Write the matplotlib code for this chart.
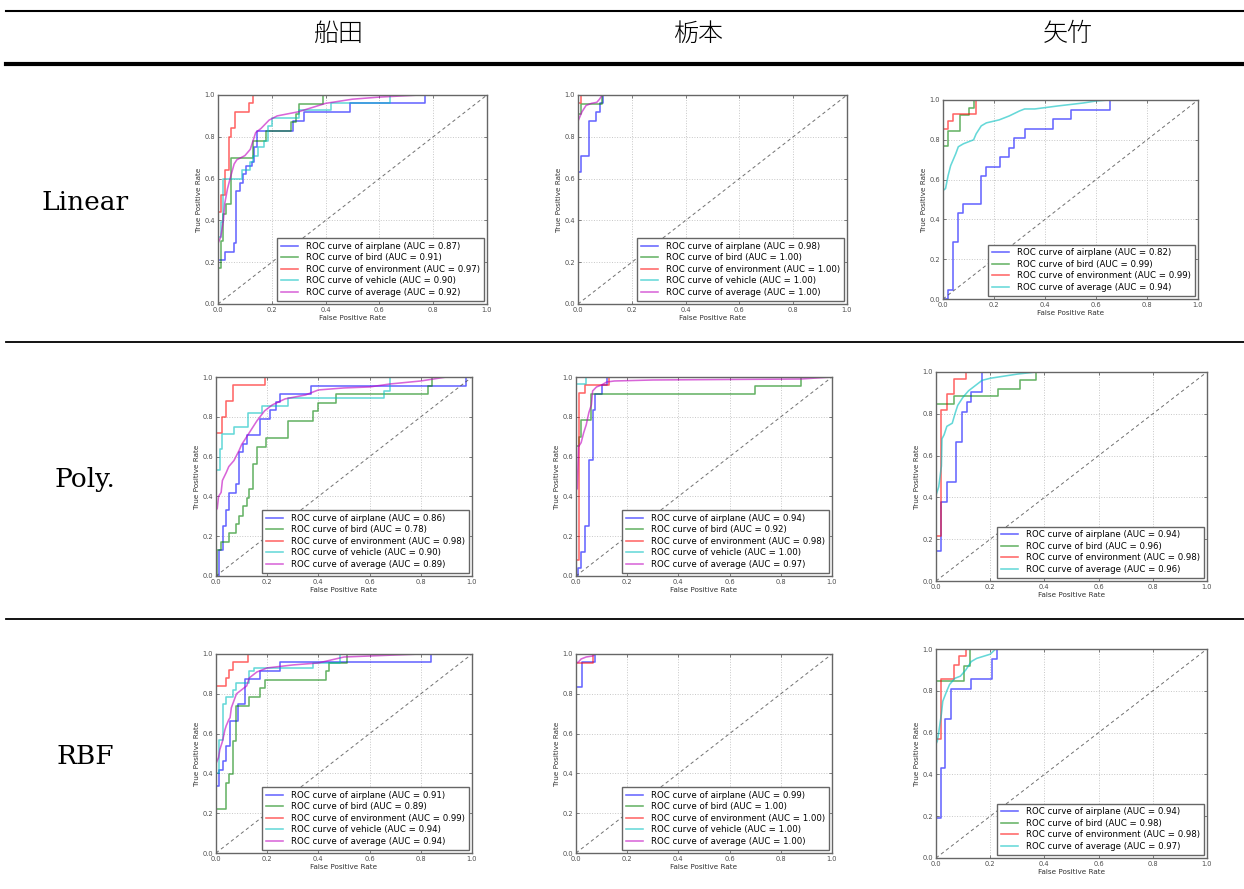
import numpy as np
import matplotlib.pyplot as plt
from matplotlib.lines import Line2D
from matplotlib.ticker import FormatStrFormatter

W, H = 1244, 889

methods = ["Linear", "Poly.", "RBF"]
annotators = ["船田", "栃本", "矢竹"]
names_full = ["airplane", "bird", "environment", "vehicle", "average"]
names_short = ["airplane", "bird", "environment", "average"]

# ROC curves, one list of (fpr, tpr) per class.
# class curves are step functions: each point is the jump position and the tpr after it
# the "average" curves are interpolated macro averages drawn as plain polylines

# Linear / 船田
lin_fun_airplane = [(0, 0.21), (0.025, 0.25), (0.058, 0.29), (0.068, 0.54), (0.08, 0.58), (0.093, 0.62),
                    (0.105, 0.66), (0.125, 0.68), (0.135, 0.75), (0.145, 0.83), (0.28, 0.875), (0.32, 0.92),
                    (0.49, 0.96), (0.77, 1.0), (1, 1)]
lin_fun_bird = [(0, 0.17), (0.01, 0.30), (0.02, 0.43), (0.03, 0.48), (0.05, 0.70), (0.13, 0.78), (0.18, 0.83),
                (0.27, 0.87), (0.29, 0.91), (0.30, 0.955), (0.39, 1.0), (1, 1)]
lin_fun_environment = [(0, 0.44), (0.01, 0.52), (0.025, 0.64), (0.04, 0.80), (0.05, 0.84), (0.065, 0.92),
                       (0.115, 0.96), (0.13, 1.0), (1, 1)]
lin_fun_vehicle = [(0, 0.32), (0.01, 0.39), (0.02, 0.60), (0.09, 0.64), (0.12, 0.68), (0.13, 0.71), (0.15, 0.75),
                   (0.17, 0.78), (0.185, 0.85), (0.2, 0.89), (0.3, 0.93), (0.42, 0.96), (0.64, 1.0), (1, 1)]
lin_fun_average = [(0, 0.29), (0.01, 0.32), (0.02, 0.40), (0.025, 0.48), (0.035, 0.55), (0.045, 0.60),
                   (0.06, 0.67), (0.07, 0.69), (0.10, 0.71), (0.12, 0.74), (0.13, 0.78), (0.14, 0.82),
                   (0.16, 0.84), (0.19, 0.88), (0.22, 0.90), (0.3, 0.92), (0.4, 0.96), (0.5, 0.98),
                   (0.6, 0.99), (0.75, 1.0), (1, 1)]
lin_fun_auc = [0.87, 0.91, 0.97, 0.90, 0.92]

# Linear / 栃本
lin_toc_airplane = [(0, 0.63), (0.012, 0.71), (0.04, 0.875), (0.067, 0.92), (0.08, 0.96), (0.093, 1.0), (1, 1)]
lin_toc_bird = [(0, 0.91), (0.01, 0.955), (0.09, 1.0), (1, 1)]
lin_toc_environment = [(0, 0.96), (0.012, 1.0), (1, 1)]
lin_toc_vehicle = [(0, 1.0), (1, 1)]
lin_toc_average = [(0, 0.875), (0.005, 0.89), (0.015, 0.92), (0.03, 0.95), (0.05, 0.96), (0.07, 0.965),
                   (0.08, 0.98), (0.09, 1.0), (1, 1)]
lin_toc_auc = [0.98, 1.00, 1.00, 1.00, 1.00]

# Linear / 矢竹
lin_yat_airplane = [(0.02, 0.045), (0.04, 0.285), (0.06, 0.43), (0.08, 0.475), (0.15, 0.62), (0.17, 0.665),
                    (0.225, 0.715), (0.26, 0.76), (0.28, 0.81), (0.32, 0.855), (0.43, 0.905), (0.5, 0.95),
                    (0.655, 1.0), (1, 1)]
lin_yat_bird = [(0, 0.77), (0.02, 0.845), (0.065, 0.925), (0.1, 0.96), (0.12, 1.0), (1, 1)]
lin_yat_environment = [(0, 0.855), (0.02, 0.895), (0.04, 0.93), (0.13, 1.0), (1, 1)]
lin_yat_average = [(0, 0.545), (0.01, 0.555), (0.02, 0.62), (0.03, 0.67), (0.05, 0.73), (0.06, 0.765),
                   (0.08, 0.78), (0.12, 0.80), (0.13, 0.83), (0.15, 0.87), (0.17, 0.885), (0.22, 0.90),
                   (0.26, 0.92), (0.3, 0.945), (0.32, 0.955), (0.36, 0.955), (0.45, 0.97), (0.55, 0.985),
                   (0.6, 0.995), (0.65, 1.0), (1, 1)]
lin_yat_auc = [0.82, 0.99, 0.99, 0.94]

# Poly / 船田
poly_fun_airplane = [(0.01, 0.13), (0.026, 0.25), (0.04, 0.33), (0.052, 0.415), (0.08, 0.46), (0.09, 0.625),
                     (0.104, 0.665), (0.12, 0.71), (0.17, 0.79), (0.21, 0.835), (0.235, 0.875), (0.25, 0.915),
                     (0.37, 0.955), (0.975, 1.0), (1, 1)]
poly_fun_bird = [(0.005, 0.13), (0.02, 0.17), (0.05, 0.215), (0.08, 0.26), (0.09, 0.30), (0.105, 0.35),
                 (0.12, 0.39), (0.13, 0.435), (0.145, 0.565), (0.16, 0.65), (0.195, 0.695), (0.28, 0.78),
                 (0.38, 0.83), (0.4, 0.87), (0.47, 0.915), (0.83, 0.955), (0.845, 1.0), (1, 1)]
poly_fun_environment = [(0, 0.72), (0.025, 0.80), (0.04, 0.88), (0.065, 0.96), (0.19, 1.0), (1, 1)]
poly_fun_vehicle = [(0, 0.535), (0.015, 0.64), (0.025, 0.715), (0.07, 0.75), (0.125, 0.82), (0.18, 0.855),
                    (0.28, 0.895), (0.655, 0.93), (0.68, 1.0), (1, 1)]
poly_fun_average = [(0, 0.33), (0.005, 0.34), (0.01, 0.40), (0.02, 0.42), (0.025, 0.48), (0.04, 0.52),
                    (0.05, 0.55), (0.07, 0.58), (0.09, 0.63), (0.1, 0.66), (0.13, 0.72), (0.16, 0.78),
                    (0.19, 0.83), (0.22, 0.86), (0.27, 0.89), (0.35, 0.91), (0.37, 0.92), (0.4, 0.935),
                    (0.5, 0.945), (0.6, 0.95), (0.68, 0.965), (0.8, 0.98), (0.9, 1.0), (1, 1)]
poly_fun_auc = [0.86, 0.78, 0.98, 0.90, 0.89]

# Poly / 栃本
poly_toc_airplane = [(0.008, 0.04), (0.02, 0.12), (0.035, 0.25), (0.05, 0.585), (0.065, 0.835), (0.075, 0.915),
                     (0.1, 0.96), (0.12, 1.0), (1, 1)]
poly_toc_bird = [(0, 0.655), (0.01, 0.70), (0.02, 0.785), (0.06, 0.915), (0.70, 0.955), (0.88, 1.0), (1, 1)]
poly_toc_environment = [(0, 0.08), (0.01, 0.92), (0.035, 0.96), (0.13, 1.0), (1, 1)]
poly_toc_vehicle = [(0, 0.965), (0.04, 1.0), (1, 1)]
poly_toc_average = [(0, 0.43), (0.005, 0.44), (0.01, 0.65), (0.02, 0.67), (0.03, 0.72), (0.04, 0.76),
                    (0.05, 0.82), (0.06, 0.86), (0.065, 0.93), (0.08, 0.95), (0.1, 0.96), (0.12, 0.975),
                    (0.15, 0.98), (0.3, 0.985), (0.88, 0.99), (1, 1)]
poly_toc_auc = [0.94, 0.92, 0.98, 1.00, 0.97]

# Poly / 矢竹
poly_yat_airplane = [(0, 0.145), (0.02, 0.38), (0.04, 0.475), (0.075, 0.665), (0.095, 0.81), (0.115, 0.855),
                     (0.13, 0.905), (0.17, 1.0), (1, 1)]
poly_yat_bird = [(0, 0.845), (0.065, 0.885), (0.23, 0.92), (0.31, 0.96), (0.37, 1.0), (1, 1)]
poly_yat_environment = [(0, 0.215), (0.02, 0.82), (0.04, 0.895), (0.065, 0.965), (0.11, 1.0), (1, 1)]
poly_yat_average = [(0, 0.41), (0.01, 0.45), (0.02, 0.55), (0.022, 0.68), (0.03, 0.70), (0.04, 0.74),
                    (0.06, 0.755), (0.07, 0.80), (0.08, 0.84), (0.1, 0.88), (0.12, 0.91), (0.15, 0.94),
                    (0.17, 0.96), (0.2, 0.97), (0.25, 0.98), (0.3, 0.99), (0.37, 1.0), (1, 1)]
poly_yat_auc = [0.94, 0.96, 0.98, 0.96]

# RBF / 船田
rbf_fun_airplane = [(0, 0.335), (0.012, 0.415), (0.028, 0.46), (0.04, 0.54), (0.055, 0.665), (0.087, 0.75),
                    (0.113, 0.875), (0.17, 0.915), (0.25, 0.96), (0.84, 1.0), (1, 1)]
rbf_fun_bird = [(0, 0.22), (0.04, 0.35), (0.05, 0.395), (0.065, 0.565), (0.08, 0.74), (0.13, 0.785),
                (0.17, 0.83), (0.19, 0.87), (0.43, 0.915), (0.44, 0.955), (0.51, 1.0), (1, 1)]
rbf_fun_environment = [(0, 0.84), (0.04, 0.88), (0.05, 0.92), (0.065, 0.96), (0.125, 1.0), (1, 1)]
rbf_fun_vehicle = [(0, 0.40), (0.013, 0.57), (0.026, 0.75), (0.04, 0.785), (0.065, 0.82), (0.08, 0.855),
                   (0.13, 0.915), (0.15, 0.93), (0.38, 0.955), (0.485, 1.0), (1, 1)]
rbf_fun_average = [(0, 0.45), (0.01, 0.48), (0.015, 0.52), (0.025, 0.56), (0.035, 0.62), (0.04, 0.64),
                   (0.05, 0.67), (0.055, 0.68), (0.06, 0.73), (0.08, 0.80), (0.1, 0.82), (0.12, 0.84),
                   (0.13, 0.88), (0.16, 0.91), (0.2, 0.93), (0.3, 0.945), (0.4, 0.955), (0.45, 0.97),
                   (0.5, 0.985), (0.6, 0.99), (0.8, 1.0), (1, 1)]
rbf_fun_auc = [0.91, 0.89, 0.99, 0.94, 0.94]

# RBF / 栃本
rbf_toc_airplane = [(0, 0.835), (0.025, 0.96), (0.075, 1.0), (1, 1)]
rbf_toc_bird = [(0, 1.0), (1, 1)]
rbf_toc_environment = [(0, 0.955), (0.065, 1.0), (1, 1)]
rbf_toc_vehicle = [(0, 1.0), (1, 1)]
rbf_toc_average = [(0, 0.955), (0.01, 0.96), (0.02, 0.975), (0.04, 0.985), (0.065, 0.99), (0.075, 1.0), (1, 1)]
rbf_toc_auc = [0.99, 1.00, 1.00, 1.00, 1.00]

# RBF / 矢竹
rbf_yat_airplane = [(0, 0.19), (0.02, 0.43), (0.035, 0.665), (0.055, 0.81), (0.13, 0.855), (0.205, 0.95),
                    (0.225, 1.0), (1, 1)]
rbf_yat_bird = [(0, 0.845), (0.105, 0.92), (0.125, 1.0), (1, 1)]
rbf_yat_environment = [(0, 0.57), (0.02, 0.855), (0.065, 0.925), (0.085, 0.965), (0.11, 1.0), (1, 1)]
rbf_yat_average = [(0, 0.545), (0.005, 0.56), (0.01, 0.60), (0.02, 0.69), (0.025, 0.75), (0.04, 0.80),
                   (0.05, 0.83), (0.07, 0.86), (0.09, 0.87), (0.11, 0.90), (0.13, 0.94), (0.15, 0.955),
                   (0.2, 0.975), (0.22, 1.0), (1, 1)]
rbf_yat_auc = [0.94, 0.98, 0.98, 0.97]

chance = [0, 1]
ticks = [0.0, 0.2, 0.4, 0.6, 0.8, 1.0]
colors = ['b', 'g', 'r', 'c', 'm']

panels = [
    [(names_full, [lin_fun_airplane, lin_fun_bird, lin_fun_environment, lin_fun_vehicle, lin_fun_average], lin_fun_auc),
     (names_full, [lin_toc_airplane, lin_toc_bird, lin_toc_environment, lin_toc_vehicle, lin_toc_average], lin_toc_auc),
     (names_short, [lin_yat_airplane, lin_yat_bird, lin_yat_environment, lin_yat_average], lin_yat_auc)],
    [(names_full, [poly_fun_airplane, poly_fun_bird, poly_fun_environment, poly_fun_vehicle, poly_fun_average], poly_fun_auc),
     (names_full, [poly_toc_airplane, poly_toc_bird, poly_toc_environment, poly_toc_vehicle, poly_toc_average], poly_toc_auc),
     (names_short, [poly_yat_airplane, poly_yat_bird, poly_yat_environment, poly_yat_average], poly_yat_auc)],
    [(names_full, [rbf_fun_airplane, rbf_fun_bird, rbf_fun_environment, rbf_fun_vehicle, rbf_fun_average], rbf_fun_auc),
     (names_full, [rbf_toc_airplane, rbf_toc_bird, rbf_toc_environment, rbf_toc_vehicle, rbf_toc_average], rbf_toc_auc),
     (names_short, [rbf_yat_airplane, rbf_yat_bird, rbf_yat_environment, rbf_yat_average], rbf_yat_auc)],
]

# axes boxes in pixels: left, top, right, bottom
boxes = [
    [(218, 95, 487, 304), (578, 95, 847, 304), (943, 100, 1198, 299)],
    [(216, 377, 472, 576), (576, 377, 832, 576), (936, 372, 1207, 581)],
    [(216, 654, 472, 853), (576, 654, 832, 853), (936, 649, 1207, 858)],
]
row_centers = [202, 480, 756]
col_centers = [339, 698, 1068]

fig = plt.figure(figsize=(W / 100, H / 100), dpi=100)
fig.patch.set_facecolor('white')


def px_axes(l, t, r, b):
    return fig.add_axes([l / W, 1 - b / H, (r - l) / W, (b - t) / H])


def roc_panel(ax, names, curves, aucs):
    for name, pts, auc, color in zip(names, curves, aucs, colors):
        x, y = zip(*pts)
        label = 'ROC curve of {0} (AUC = {1:0.2f})'.format(name, auc)
        if name == 'average':
            ax.plot(x, y, color=color, alpha=0.6, lw=1.15, label=label)
        else:
            ax.plot((0,) + x, (0,) + y, color=color, alpha=0.6, lw=1.15,
                    drawstyle='steps-post', label=label)
    ax.plot(chance, chance, color='0.3', ls='--', lw=0.7, alpha=0.8, dashes=(3.5, 3))
    ax.set_xlim(0, 1)
    ax.set_ylim(0, 1)
    ax.set_xticks(ticks)
    ax.set_yticks(ticks)
    ax.xaxis.set_major_formatter(FormatStrFormatter('%.1f'))
    ax.yaxis.set_major_formatter(FormatStrFormatter('%.1f'))
    ax.tick_params(direction='in', length=2, width=0.5, labelsize=4.8, pad=2,
                   top=True, right=True, colors='0.3')
    ax.grid(True, color='0.78', ls=':', lw=0.7)
    for s in ax.spines.values():
        s.set_color('0.4')
        s.set_linewidth(1.0)
    ax.set_xlabel('False Positive Rate', fontsize=5.2, labelpad=1.5, color='0.2')
    ax.set_ylabel('True Positive Rate', fontsize=5.2, labelpad=2, color='0.2')
    leg = ax.legend(loc='lower right', fontsize=6.2, labelspacing=0.28, borderpad=0.45,
                    borderaxespad=0.4, handlelength=2.0, handletextpad=0.9,
                    fancybox=False, framealpha=1)
    leg.get_frame().set_edgecolor('0.4')
    leg.get_frame().set_linewidth(1.0)


for i, row in enumerate(panels):
    for j, (names, curves, aucs) in enumerate(row):
        ax = px_axes(*boxes[i][j])
        roc_panel(ax, names, curves, aucs)

# table header and row labels
for j, who in enumerate(annotators):
    fig.text(col_centers[j] / W, 1 - 34 / H, who, ha='center', va='center',
             fontsize=18, family=['Noto Sans CJK JP', 'DejaVu Sans'], weight='light')
for i, m in enumerate(methods):
    fig.text(85 / W, 1 - row_centers[i] / H, m, ha='center', va='center',
             fontsize=19, family='DejaVu Serif')

# table rules
rules = [(11, 1.5), (64, 3.0), (342, 1.3), (619, 1.3)]
for y, lw in rules:
    fig.add_artist(Line2D([6 / W, 1.0], [1 - y / H, 1 - y / H], transform=fig.transFigure,
                          color='k', lw=lw))

fig.savefig('out.png', dpi=100, facecolor='white')
